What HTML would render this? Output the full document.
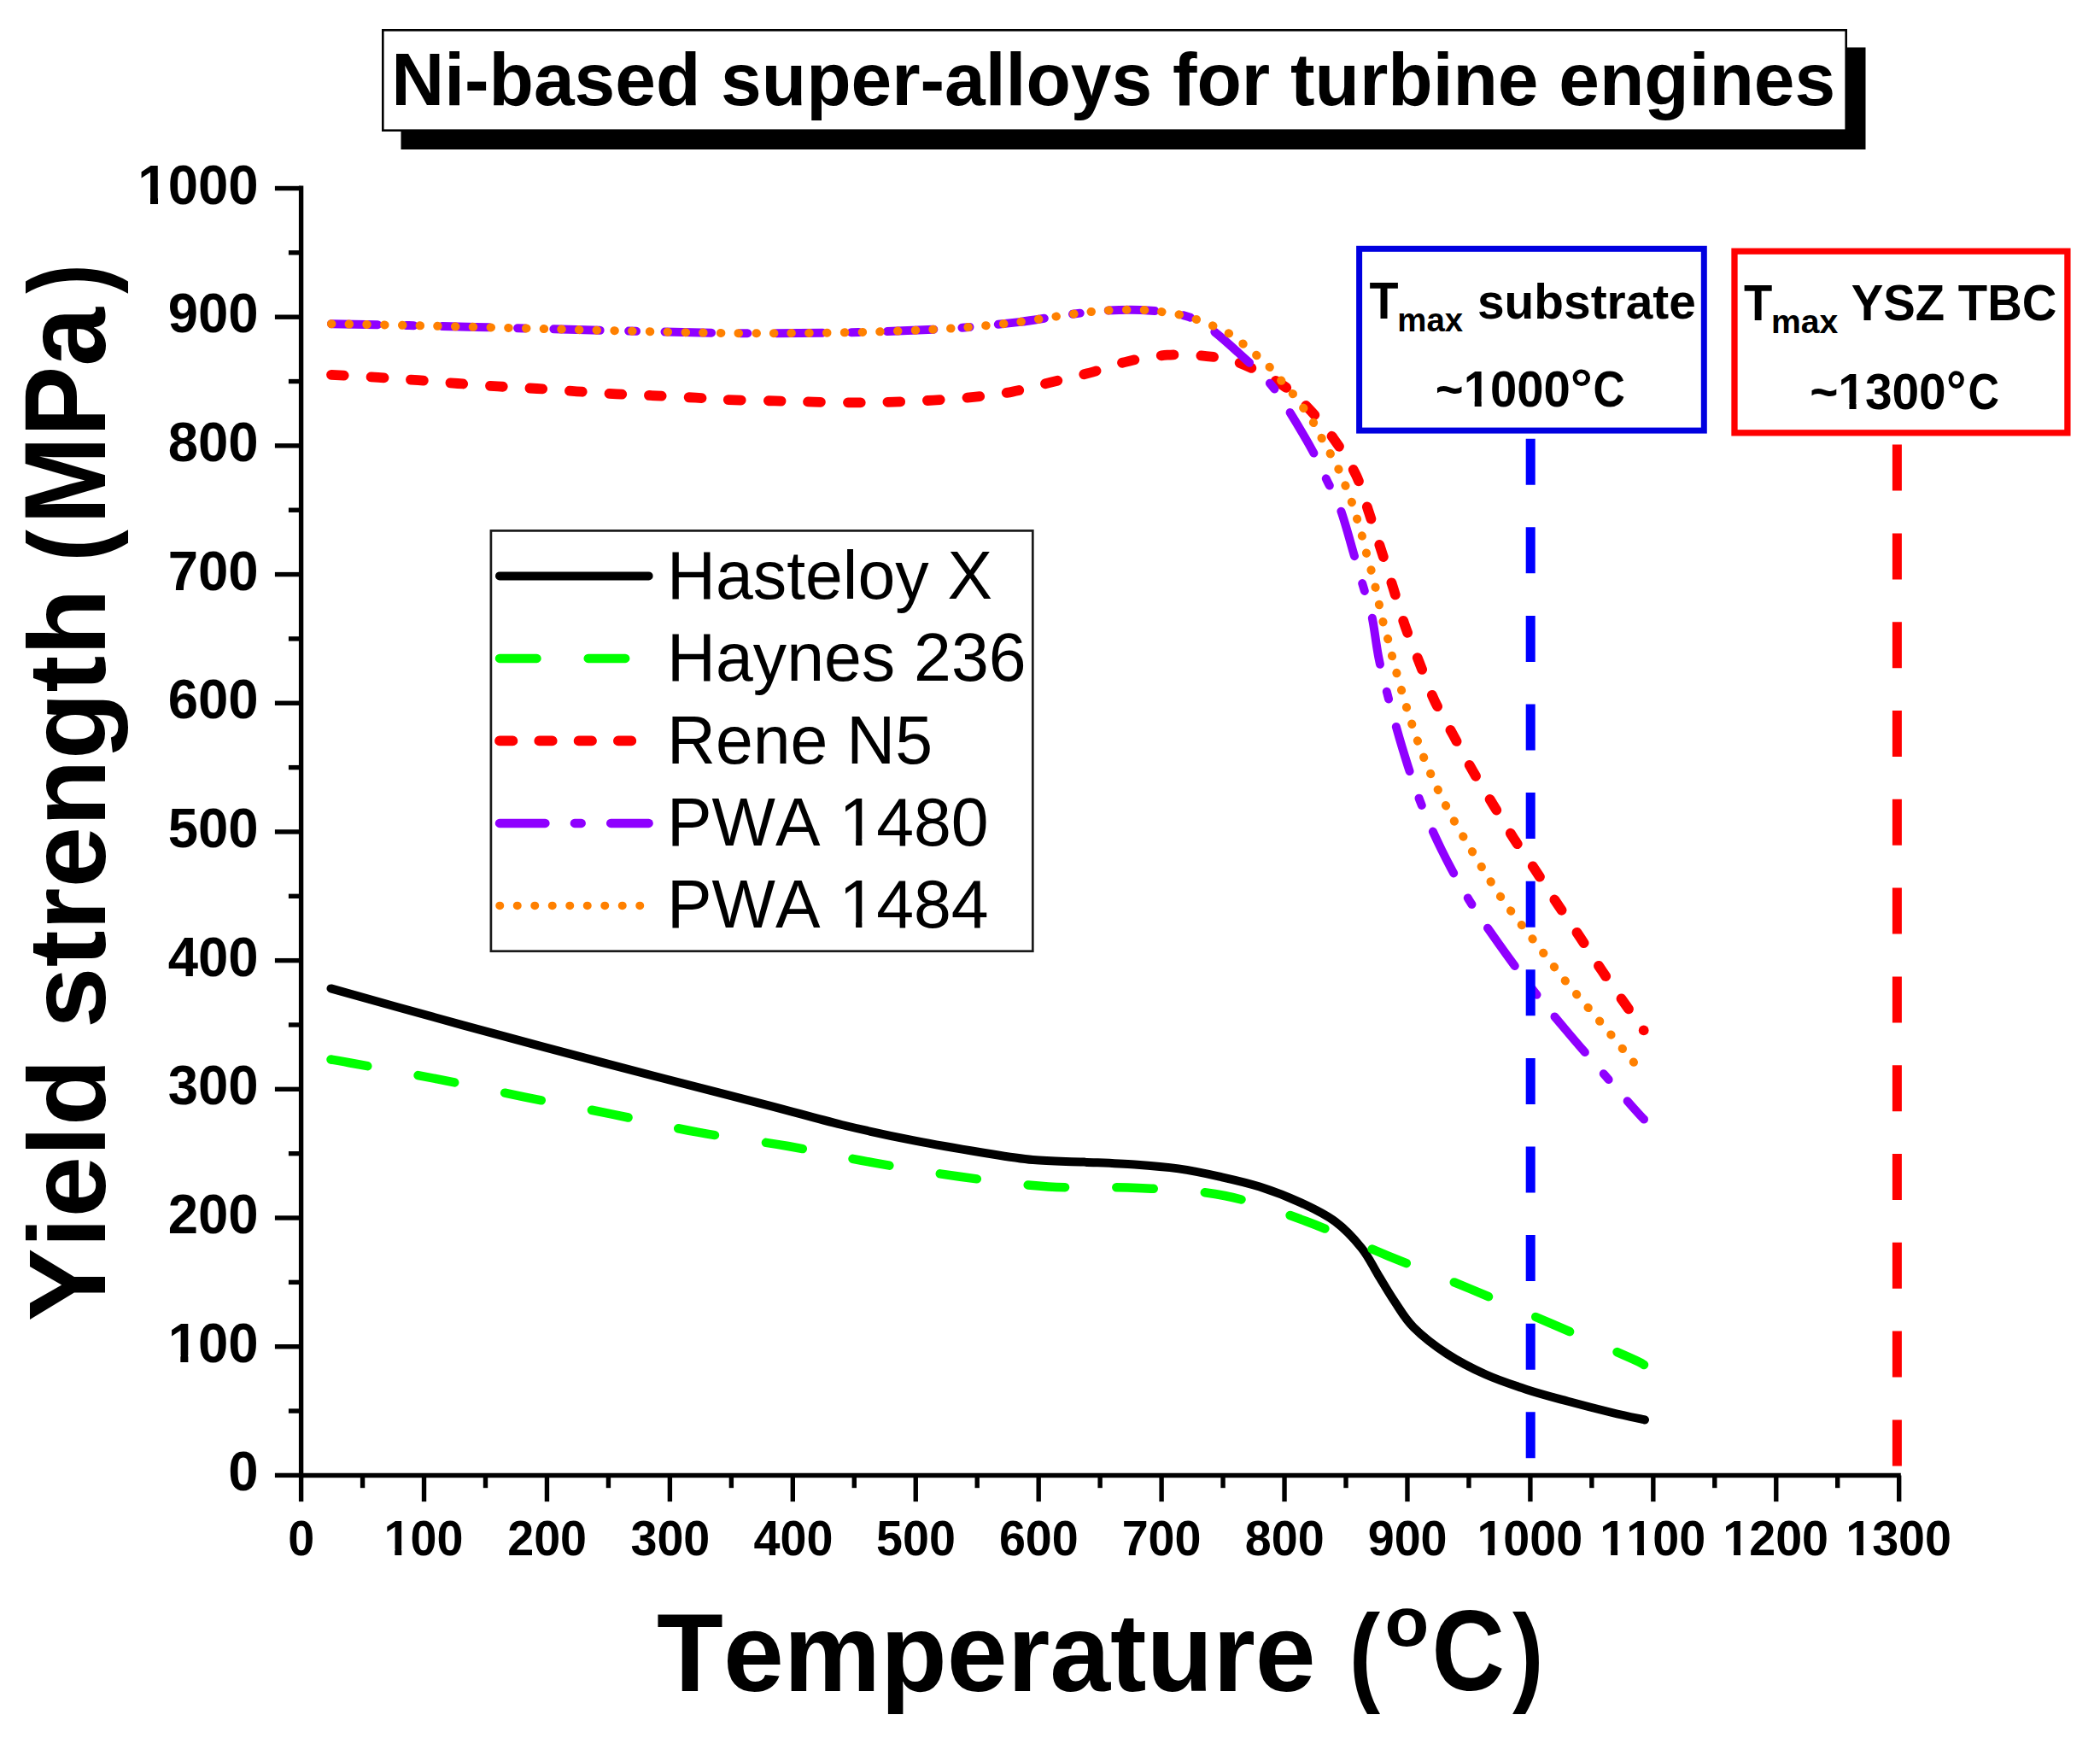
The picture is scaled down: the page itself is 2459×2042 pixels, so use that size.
<!DOCTYPE html><html><head><meta charset="utf-8"><title>Ni-based super-alloys for turbine engines</title><style>html,body{margin:0;padding:0;background:#fff}svg{display:block}text{font-kerning:none;font-feature-settings:"kern" 0, "liga" 0;font-variant-ligatures:none}</style></head><body>
<svg width="2459" height="2042" viewBox="0 0 2459 2042">
<rect x="0" y="0" width="2459" height="2042" fill="#fff"/>
<rect x="469.5" y="55.5" width="1715" height="119.5" fill="#000"/>
<rect x="448.3" y="35.3" width="1713.4" height="117.4" fill="#fff" stroke="#000" stroke-width="2.6"/>
<text transform="translate(458.26,123.4) scale(0.99,1)" font-family='"Liberation Sans", Arial, sans-serif' font-weight="bold" font-size="86.6" fill="#000" xml:space="preserve">Ni-based super-alloys for turbine engines</text>
<g stroke="#000" stroke-width="5.4" fill="none">
<line x1="352.6" y1="217.6" x2="352.6" y2="1730.2"/>
<line x1="349.90000000000003" y1="1727.5" x2="2225.8" y2="1727.5"/>
<line x1="321.9" y1="1727.4" x2="352.6" y2="1727.4"/>
<line x1="337.9" y1="1652.06" x2="352.6" y2="1652.06"/>
<line x1="321.9" y1="1576.71" x2="352.6" y2="1576.71"/>
<line x1="337.9" y1="1501.37" x2="352.6" y2="1501.37"/>
<line x1="321.9" y1="1426.02" x2="352.6" y2="1426.02"/>
<line x1="337.9" y1="1350.68" x2="352.6" y2="1350.68"/>
<line x1="321.9" y1="1275.33" x2="352.6" y2="1275.33"/>
<line x1="337.9" y1="1199.99" x2="352.6" y2="1199.99"/>
<line x1="321.9" y1="1124.64" x2="352.6" y2="1124.64"/>
<line x1="337.9" y1="1049.3" x2="352.6" y2="1049.3"/>
<line x1="321.9" y1="973.95" x2="352.6" y2="973.95"/>
<line x1="337.9" y1="898.61" x2="352.6" y2="898.61"/>
<line x1="321.9" y1="823.26" x2="352.6" y2="823.26"/>
<line x1="337.9" y1="747.92" x2="352.6" y2="747.92"/>
<line x1="321.9" y1="672.57" x2="352.6" y2="672.57"/>
<line x1="337.9" y1="597.23" x2="352.6" y2="597.23"/>
<line x1="321.9" y1="521.88" x2="352.6" y2="521.88"/>
<line x1="337.9" y1="446.54" x2="352.6" y2="446.54"/>
<line x1="321.9" y1="371.19" x2="352.6" y2="371.19"/>
<line x1="337.9" y1="295.85" x2="352.6" y2="295.85"/>
<line x1="321.9" y1="220.5" x2="352.6" y2="220.5"/>
<line x1="352.6" y1="1727.5" x2="352.6" y2="1758.2"/>
<line x1="424.57" y1="1727.5" x2="424.57" y2="1742.2"/>
<line x1="496.53" y1="1727.5" x2="496.53" y2="1758.2"/>
<line x1="568.5" y1="1727.5" x2="568.5" y2="1742.2"/>
<line x1="640.46" y1="1727.5" x2="640.46" y2="1758.2"/>
<line x1="712.42" y1="1727.5" x2="712.42" y2="1742.2"/>
<line x1="784.39" y1="1727.5" x2="784.39" y2="1758.2"/>
<line x1="856.36" y1="1727.5" x2="856.36" y2="1742.2"/>
<line x1="928.32" y1="1727.5" x2="928.32" y2="1758.2"/>
<line x1="1000.29" y1="1727.5" x2="1000.29" y2="1742.2"/>
<line x1="1072.25" y1="1727.5" x2="1072.25" y2="1758.2"/>
<line x1="1144.22" y1="1727.5" x2="1144.22" y2="1742.2"/>
<line x1="1216.18" y1="1727.5" x2="1216.18" y2="1758.2"/>
<line x1="1288.14" y1="1727.5" x2="1288.14" y2="1742.2"/>
<line x1="1360.11" y1="1727.5" x2="1360.11" y2="1758.2"/>
<line x1="1432.07" y1="1727.5" x2="1432.07" y2="1742.2"/>
<line x1="1504.04" y1="1727.5" x2="1504.04" y2="1758.2"/>
<line x1="1576.01" y1="1727.5" x2="1576.01" y2="1742.2"/>
<line x1="1647.97" y1="1727.5" x2="1647.97" y2="1758.2"/>
<line x1="1719.93" y1="1727.5" x2="1719.93" y2="1742.2"/>
<line x1="1791.9" y1="1727.5" x2="1791.9" y2="1758.2"/>
<line x1="1863.87" y1="1727.5" x2="1863.87" y2="1742.2"/>
<line x1="1935.83" y1="1727.5" x2="1935.83" y2="1758.2"/>
<line x1="2007.8" y1="1727.5" x2="2007.8" y2="1742.2"/>
<line x1="2079.76" y1="1727.5" x2="2079.76" y2="1758.2"/>
<line x1="2151.72" y1="1727.5" x2="2151.72" y2="1742.2"/>
<line x1="2223.69" y1="1727.5" x2="2223.69" y2="1758.2"/>
</g>
<text transform="translate(267.29,1745.4) scale(1,1.03)" font-family='"Liberation Sans", Arial, sans-serif' font-weight="bold" font-size="63.5" fill="#000" xml:space="preserve">0</text>
<text transform="translate(196.66,1594.71) scale(1,1.03)" font-family='"Liberation Sans", Arial, sans-serif' font-weight="bold" font-size="63.5" fill="#000" xml:space="preserve">100</text>
<g transform="translate(196.66,1594.71) scale(1,1.03)" fill="#fff"><rect x="2.8" y="-7.78" width="11.87" height="9.08"/><rect x="23.68" y="-7.78" width="11.06" height="9.08"/></g>
<text transform="translate(196.66,1444.02) scale(1,1.03)" font-family='"Liberation Sans", Arial, sans-serif' font-weight="bold" font-size="63.5" fill="#000" xml:space="preserve">200</text>
<text transform="translate(196.66,1293.33) scale(1,1.03)" font-family='"Liberation Sans", Arial, sans-serif' font-weight="bold" font-size="63.5" fill="#000" xml:space="preserve">300</text>
<text transform="translate(196.66,1142.64) scale(1,1.03)" font-family='"Liberation Sans", Arial, sans-serif' font-weight="bold" font-size="63.5" fill="#000" xml:space="preserve">400</text>
<text transform="translate(196.66,991.95) scale(1,1.03)" font-family='"Liberation Sans", Arial, sans-serif' font-weight="bold" font-size="63.5" fill="#000" xml:space="preserve">500</text>
<text transform="translate(196.66,841.26) scale(1,1.03)" font-family='"Liberation Sans", Arial, sans-serif' font-weight="bold" font-size="63.5" fill="#000" xml:space="preserve">600</text>
<text transform="translate(196.66,690.57) scale(1,1.03)" font-family='"Liberation Sans", Arial, sans-serif' font-weight="bold" font-size="63.5" fill="#000" xml:space="preserve">700</text>
<text transform="translate(196.66,539.88) scale(1,1.03)" font-family='"Liberation Sans", Arial, sans-serif' font-weight="bold" font-size="63.5" fill="#000" xml:space="preserve">800</text>
<text transform="translate(196.66,389.19) scale(1,1.03)" font-family='"Liberation Sans", Arial, sans-serif' font-weight="bold" font-size="63.5" fill="#000" xml:space="preserve">900</text>
<text transform="translate(161.34,238.5) scale(1,1.03)" font-family='"Liberation Sans", Arial, sans-serif' font-weight="bold" font-size="63.5" fill="#000" xml:space="preserve">1000</text>
<g transform="translate(161.34,238.5) scale(1,1.03)" fill="#fff"><rect x="2.8" y="-7.78" width="11.87" height="9.08"/><rect x="23.68" y="-7.78" width="11.06" height="9.08"/></g>
<text transform="translate(337.17,1821) scale(1,1.04)" font-family='"Liberation Sans", Arial, sans-serif' font-weight="bold" font-size="55.65" fill="#000" xml:space="preserve">0</text>
<text transform="translate(449.49,1821) scale(1,1.04)" font-family='"Liberation Sans", Arial, sans-serif' font-weight="bold" font-size="55.65" fill="#000" xml:space="preserve">100</text>
<g transform="translate(449.49,1821) scale(1,1.04)" fill="#fff"><rect x="2.31" y="-6.98" width="10.53" height="8.28"/><rect x="20.77" y="-6.98" width="9.83" height="8.28"/></g>
<text transform="translate(594.21,1821) scale(1,1.04)" font-family='"Liberation Sans", Arial, sans-serif' font-weight="bold" font-size="55.65" fill="#000" xml:space="preserve">200</text>
<text transform="translate(738.47,1821) scale(1,1.04)" font-family='"Liberation Sans", Arial, sans-serif' font-weight="bold" font-size="55.65" fill="#000" xml:space="preserve">300</text>
<text transform="translate(882.62,1821) scale(1,1.04)" font-family='"Liberation Sans", Arial, sans-serif' font-weight="bold" font-size="55.65" fill="#000" xml:space="preserve">400</text>
<text transform="translate(1026.11,1821) scale(1,1.04)" font-family='"Liberation Sans", Arial, sans-serif' font-weight="bold" font-size="55.65" fill="#000" xml:space="preserve">500</text>
<text transform="translate(1169.88,1821) scale(1,1.04)" font-family='"Liberation Sans", Arial, sans-serif' font-weight="bold" font-size="55.65" fill="#000" xml:space="preserve">600</text>
<text transform="translate(1313.63,1821) scale(1,1.04)" font-family='"Liberation Sans", Arial, sans-serif' font-weight="bold" font-size="55.65" fill="#000" xml:space="preserve">700</text>
<text transform="translate(1457.87,1821) scale(1,1.04)" font-family='"Liberation Sans", Arial, sans-serif' font-weight="bold" font-size="55.65" fill="#000" xml:space="preserve">800</text>
<text transform="translate(1601.72,1821) scale(1,1.04)" font-family='"Liberation Sans", Arial, sans-serif' font-weight="bold" font-size="55.65" fill="#000" xml:space="preserve">900</text>
<text transform="translate(1729.38,1821) scale(1,1.04)" font-family='"Liberation Sans", Arial, sans-serif' font-weight="bold" font-size="55.65" fill="#000" xml:space="preserve">1000</text>
<g transform="translate(1729.38,1821) scale(1,1.04)" fill="#fff"><rect x="2.31" y="-6.98" width="10.53" height="8.28"/><rect x="20.77" y="-6.98" width="9.83" height="8.28"/></g>
<text transform="translate(1873.31,1821) scale(1,1.04)" font-family='"Liberation Sans", Arial, sans-serif' font-weight="bold" font-size="55.65" fill="#000" xml:space="preserve">1100</text>
<g transform="translate(1873.31,1821) scale(1,1.04)" fill="#fff"><rect x="2.31" y="-6.98" width="10.53" height="8.28"/><rect x="20.77" y="-6.98" width="9.83" height="8.28"/><rect x="33.26" y="-6.98" width="10.53" height="8.28"/><rect x="51.72" y="-6.98" width="9.83" height="8.28"/></g>
<text transform="translate(2017.25,1821) scale(1,1.04)" font-family='"Liberation Sans", Arial, sans-serif' font-weight="bold" font-size="55.65" fill="#000" xml:space="preserve">1200</text>
<g transform="translate(2017.25,1821) scale(1,1.04)" fill="#fff"><rect x="2.31" y="-6.98" width="10.53" height="8.28"/><rect x="20.77" y="-6.98" width="9.83" height="8.28"/></g>
<text transform="translate(2161.18,1821) scale(1,1.04)" font-family='"Liberation Sans", Arial, sans-serif' font-weight="bold" font-size="55.65" fill="#000" xml:space="preserve">1300</text>
<g transform="translate(2161.18,1821) scale(1,1.04)" fill="#fff"><rect x="2.31" y="-6.98" width="10.53" height="8.28"/><rect x="20.77" y="-6.98" width="9.83" height="8.28"/></g>
<text transform="translate(122.6,1547.19) rotate(-90) scale(0.99,0.98)" font-family='"Liberation Sans", Arial, sans-serif' font-weight="bold" font-size="130">Yield strength</text>
<text transform="translate(123,657.81) rotate(-90) scale(0.87,0.99)" font-family='"Liberation Sans", Arial, sans-serif' font-weight="bold" font-size="130">(</text>
<text transform="translate(123,614.1) rotate(-90) scale(0.95,1.04)" font-family='"Liberation Sans", Arial, sans-serif' font-weight="bold" font-size="130">MPa</text>
<text transform="translate(123,343.7) rotate(-90) scale(0.8,0.99)" font-family='"Liberation Sans", Arial, sans-serif' font-weight="bold" font-size="130">)</text>
<text transform="translate(769.07,1980) scale(0.98,1)" font-family='"Liberation Sans", Arial, sans-serif' font-weight="bold" font-size="130" fill="#000" xml:space="preserve">Temperature</text>
<text transform="translate(1579.87,1980.2) scale(0.84,0.99)" font-family='"Liberation Sans", Arial, sans-serif' font-weight="bold" font-size="130" fill="#000" xml:space="preserve">(</text>
<text transform="translate(1621.38,1926.5) scale(1.01,0.98)" font-family='"Liberation Sans", Arial, sans-serif' font-weight="bold" font-size="84" fill="#000" xml:space="preserve">o</text>
<text transform="translate(1676.45,1979.3) scale(0.91,1.02)" font-family='"Liberation Sans", Arial, sans-serif' font-weight="bold" font-size="130" fill="#000" xml:space="preserve">C</text>
<text transform="translate(1771.07,1980.2) scale(0.84,0.99)" font-family='"Liberation Sans", Arial, sans-serif' font-weight="bold" font-size="130" fill="#000" xml:space="preserve">)</text>
<rect x="574.9" y="621.4" width="634.4" height="492.3" fill="#fff" stroke="#1a1a1a" stroke-width="2.7"/>
<path d="M585,674.4 H759.6" stroke="#000" stroke-width="10" stroke-linecap="round" fill="none"/>
<text transform="translate(781.04,700.7) scale(1,1.01)" font-family='"Liberation Sans", Arial, sans-serif' font-weight="normal" font-size="78.8" fill="#000" xml:space="preserve">Hasteloy X</text>
<path d="M585,770.9 H759.6" stroke="#00ff00" stroke-width="10.5" stroke-linecap="round" fill="none" stroke-dasharray="43.5 60.2"/>
<text transform="translate(781.04,797.1) scale(1,1.01)" font-family='"Liberation Sans", Arial, sans-serif' font-weight="normal" font-size="78.8" fill="#000" xml:space="preserve">Haynes 236</text>
<path d="M585,867.4 H759.6" stroke="#ff0000" stroke-width="11.8" stroke-linecap="round" fill="none" stroke-dasharray="15.4 30.9"/>
<text transform="translate(781.04,893.5) scale(1,1.01)" font-family='"Liberation Sans", Arial, sans-serif' font-weight="normal" font-size="78.8" fill="#000" xml:space="preserve">Rene N5</text>
<path d="M585,963.9 H759.6" stroke="#8f00ff" stroke-width="10.5" stroke-linecap="round" fill="none" stroke-dasharray="53.4 34.5 7.8 34.5"/>
<text transform="translate(781.04,989.9) scale(1,1.01)" font-family='"Liberation Sans", Arial, sans-serif' font-weight="normal" font-size="78.8" fill="#000" xml:space="preserve">PWA 1480</text>
<g transform="translate(781.04,989.9) scale(1,1.01)" fill="#fff"><rect x="206.19" y="-7.19" width="14.86" height="8.49"/><rect x="228.32" y="-7.19" width="14.25" height="8.49"/></g>
<path d="M585,1060.4 H759.6" stroke="#ff8000" stroke-width="9.5" stroke-linecap="round" fill="none" stroke-dasharray="0.5 20"/>
<text transform="translate(781.04,1086.3) scale(1,1.01)" font-family='"Liberation Sans", Arial, sans-serif' font-weight="normal" font-size="78.8" fill="#000" xml:space="preserve">PWA 1484</text>
<g transform="translate(781.04,1086.3) scale(1,1.01)" fill="#fff"><rect x="206.19" y="-7.19" width="14.86" height="8.49"/><rect x="228.32" y="-7.19" width="14.25" height="8.49"/></g>
<path d="M387.5,1157.4 C407.92,1163.08 468.63,1180.12 510,1191.5 C551.37,1202.88 590.7,1213.7 635.7,1225.7 C680.7,1237.7 735.95,1252.07 780,1263.5 C824.05,1274.93 865.72,1285.38 900,1294.3 C934.28,1303.22 957.13,1310.1 985.7,1317 C1014.27,1323.9 1044.02,1330.28 1071.4,1335.7 C1098.78,1341.12 1126.98,1345.77 1150,1349.5 C1173.02,1353.23 1189.67,1356.25 1209.5,1358.1 C1229.33,1359.95 1249.15,1359.7 1269,1360.6 C1288.85,1361.5 1310.1,1362.2 1328.6,1363.5 C1347.1,1364.8 1363.43,1366.05 1380,1368.4 C1396.57,1370.75 1412.17,1374.08 1428,1377.6 C1443.83,1381.12 1459.17,1384.42 1475,1389.5 C1490.83,1394.58 1508.27,1401.3 1523,1408.1 C1537.73,1414.9 1551.5,1421.43 1563.4,1430.3 C1575.3,1439.17 1586.05,1450.97 1594.4,1461.3 C1602.75,1471.63 1607.13,1481.98 1613.5,1492.3 C1619.87,1502.62 1625.63,1512.88 1632.6,1523.2 C1639.57,1533.52 1644.98,1543.87 1655.3,1554.2 C1665.62,1564.53 1680.38,1575.98 1694.5,1585.2 C1708.62,1594.42 1724.48,1602.55 1740,1609.5 C1755.52,1616.45 1771.73,1621.73 1787.6,1626.9 C1803.47,1632.07 1818.53,1635.98 1835.2,1640.5 C1851.87,1645.02 1872.47,1650.33 1887.6,1654 C1902.73,1657.67 1919.6,1661.08 1926,1662.5" stroke="#000" stroke-width="10" stroke-linecap="round" stroke-linejoin="round" fill="none"/>
<path d="M387.5,1240.5 C391.25,1241.17 389.25,1240.68 410,1244.5 C430.75,1248.32 478.07,1256.77 512,1263.4 C545.93,1270.03 579.65,1277.48 613.6,1284.3 C647.55,1291.12 681.8,1297.4 715.7,1304.3 C749.6,1311.2 782.47,1319.42 817,1325.7 C851.53,1331.98 888.58,1336.05 922.9,1342 C957.22,1347.95 989.33,1355.45 1022.9,1361.4 C1056.47,1367.35 1090.17,1373.03 1124.3,1377.7 C1158.43,1382.37 1193.08,1387.2 1227.7,1389.4 C1262.32,1391.6 1297.62,1389.13 1332,1390.9 C1366.38,1392.67 1401.08,1393.48 1434,1400 C1466.92,1406.52 1497.67,1418.28 1529.5,1430 C1561.33,1441.72 1593.03,1457.13 1625,1470.3 C1656.97,1483.47 1689.55,1495.82 1721.3,1509 C1753.05,1522.18 1784.33,1535.97 1815.5,1549.4 C1846.67,1562.83 1890.05,1581.5 1908.3,1589.6 C1926.55,1597.7 1922.22,1596.6 1925,1598" stroke="#00ff00" stroke-width="10.5" stroke-linecap="round" stroke-linejoin="round" fill="none" stroke-dasharray="43.5 60.2"/>
<path d="M388,438.8 C397.12,439.32 425.73,440.83 442.7,441.9 C459.67,442.97 474.25,444.02 489.8,445.2 C505.35,446.38 520.47,447.8 536,449 C551.53,450.2 567.5,451.4 583,452.4 C598.5,453.4 613.58,454.02 629,455 C644.42,455.98 660,457.23 675.5,458.3 C691,459.37 706.58,460.57 722,461.4 C737.42,462.23 752.53,462.58 768,463.3 C783.47,464.02 801.13,464.92 814.8,465.7 C828.47,466.48 834.63,467.38 850,468 C865.37,468.62 889.85,468.97 907,469.4 C924.15,469.83 937.17,470.27 952.9,470.6 C968.63,470.93 985.72,471.4 1001.4,471.4 C1017.08,471.4 1031.75,471.07 1047,470.6 C1062.25,470.13 1077.4,469.55 1092.9,468.6 C1108.4,467.65 1124.53,466.57 1140,464.9 C1155.47,463.23 1170.7,461.47 1185.7,458.6 C1200.7,455.73 1215,451.37 1230,447.7 C1245,444.03 1260.47,440.73 1275.7,436.6 C1290.93,432.47 1306.18,426.38 1321.4,422.9 C1336.62,419.42 1351.75,416.67 1367,415.7 C1382.25,414.73 1399.07,415.67 1412.9,417.1 C1426.73,418.53 1435.15,418.65 1450,424.3 C1464.85,429.95 1488.17,441.88 1502,451 C1515.83,460.12 1522.87,468.28 1533,479 C1543.13,489.72 1553.63,502.37 1562.8,515.3 C1571.97,528.23 1581.3,542.45 1588,556.6 C1594.7,570.75 1598.02,585.3 1603,600.2 C1607.98,615.1 1613.12,631.1 1617.9,646 C1622.68,660.9 1627.12,675.07 1631.7,689.6 C1636.28,704.13 1640.43,719.05 1645.4,733.2 C1650.37,747.35 1655.78,760 1661.5,774.5 C1667.22,789 1672.93,805.7 1679.7,820.2 C1686.47,834.7 1694.63,847.75 1702.1,861.5 C1709.57,875.25 1716.77,889.23 1724.5,902.7 C1732.23,916.17 1740.48,929.12 1748.5,942.3 C1756.52,955.48 1764.28,968.9 1772.6,981.8 C1780.92,994.7 1789.8,1006.8 1798.4,1019.7 C1807,1032.6 1815.6,1046.3 1824.2,1059.2 C1832.8,1072.1 1841.4,1084.2 1850,1097.1 C1858.6,1110 1866.92,1123.42 1875.8,1136.6 C1884.68,1149.78 1895.15,1164.57 1903.3,1176.2 C1911.45,1187.83 1921.13,1201.37 1924.7,1206.4" stroke="#ff0000" stroke-width="11.8" stroke-linecap="round" stroke-linejoin="round" fill="none" stroke-dasharray="14.8 31.8"/>
<path d="M388,379.2 C403.17,379.5 444,380.2 479,381 C514,381.8 558.33,382.98 598,384 C637.67,385.02 675,386.1 717,387.1 C759,388.1 813.55,389.52 850,390 C886.45,390.48 907.13,390.23 935.7,390 C964.27,389.77 995.2,389.32 1021.4,388.6 C1047.6,387.88 1073.85,386.65 1092.9,385.7 C1111.95,384.75 1119.03,384.33 1135.7,382.9 C1152.37,381.47 1173.85,379.48 1192.9,377.1 C1211.95,374.72 1233.33,370.83 1250,368.6 C1266.67,366.37 1278.62,364.65 1292.9,363.7 C1307.18,362.75 1323.8,362.57 1335.7,362.9 C1347.6,363.23 1354.77,364.28 1364.3,365.7 C1373.83,367.12 1383.9,368.07 1392.9,371.4 C1401.9,374.73 1408.78,378.78 1418.3,385.7 C1427.82,392.62 1438.9,402.77 1450,412.9 C1461.1,423.03 1475.27,435.55 1484.9,446.5 C1494.53,457.45 1499.02,464.83 1507.8,478.6 C1516.58,492.37 1529.95,515.15 1537.6,529.1 C1545.25,543.05 1548.35,551.03 1553.7,562.3 C1559.05,573.57 1564.35,581.98 1569.7,596.7 C1575.05,611.42 1581.4,635.68 1585.8,650.6 C1590.2,665.52 1592.67,674.35 1596.1,686.2 C1599.53,698.05 1603.35,707.68 1606.4,721.7 C1609.45,735.72 1611.35,755.03 1614.4,770.3 C1617.45,785.57 1620.12,795.82 1624.7,813.3 C1629.28,830.78 1635.6,854.57 1641.9,875.2 C1648.2,895.83 1654.77,917.03 1662.5,937.1 C1670.23,957.17 1678.83,976.4 1688.3,995.6 C1697.77,1014.8 1708.12,1033.95 1719.3,1052.3 C1730.48,1070.65 1742.78,1087.92 1755.4,1105.7 C1768.02,1123.48 1781.82,1142.1 1795,1159 C1808.18,1175.9 1820.75,1190.77 1834.5,1207.1 C1848.25,1223.43 1864.32,1241.8 1877.5,1257 C1890.68,1272.2 1905.68,1289.38 1913.6,1298.3 C1921.52,1307.22 1923.1,1308.47 1925,1310.5" stroke="#8f00ff" stroke-width="10" stroke-linecap="round" stroke-linejoin="round" fill="none" stroke-dasharray="54.5 33.4 8.9 33.4"/>
<path d="M388,379.2 C403.17,379.5 444,380.2 479,381 C514,381.8 558.33,382.98 598,384 C637.67,385.02 675,386.1 717,387.1 C759,388.1 813.55,389.52 850,390 C886.45,390.48 907.13,390.23 935.7,390 C964.27,389.77 995.2,389.32 1021.4,388.6 C1047.6,387.88 1073.85,386.65 1092.9,385.7 C1111.95,384.75 1119.03,384.33 1135.7,382.9 C1152.37,381.47 1173.85,379.48 1192.9,377.1 C1211.95,374.72 1233.33,370.83 1250,368.6 C1266.67,366.37 1278.62,364.65 1292.9,363.7 C1307.18,362.75 1323.8,362.57 1335.7,362.9 C1347.6,363.23 1354.77,364.28 1364.3,365.7 C1373.83,367.12 1382.37,368.25 1392.9,371.4 C1403.43,374.55 1418.67,380.68 1427.5,384.6 C1436.33,388.52 1440.35,391.15 1445.9,394.9 C1451.45,398.65 1455.65,402.78 1460.8,407.1 C1465.95,411.42 1471.65,416.15 1476.8,420.8 C1481.95,425.45 1486.92,429.77 1491.7,435 C1496.48,440.23 1501.1,447.03 1505.5,452.2 C1509.9,457.37 1513.9,460.63 1518.1,466 C1522.3,471.37 1526.68,478.47 1530.7,484.4 C1534.72,490.33 1538.75,495.5 1542.2,501.6 C1545.65,507.7 1547.97,514.7 1551.4,521 C1554.83,527.3 1559.55,533.27 1562.8,539.4 C1566.05,545.53 1568.22,551.5 1570.9,557.8 C1573.58,564.1 1576.42,570.72 1578.9,577.2 C1581.38,583.68 1583.7,590.2 1585.8,596.7 C1587.9,603.2 1589.6,609.7 1591.5,616.2 C1593.4,622.7 1595.48,629.2 1597.2,635.7 C1598.92,642.2 1600.07,648.7 1601.8,655.2 C1603.53,661.7 1605.87,668 1607.6,674.7 C1609.33,681.4 1610.68,688.52 1612.2,695.4 C1613.72,702.28 1615.18,709.32 1616.7,716 C1618.22,722.68 1619.57,729 1621.3,735.5 C1623.03,742 1625.37,748.5 1627.1,755 C1628.83,761.5 1628.08,761.33 1631.7,774.5 C1635.32,787.67 1642.52,814.35 1648.8,834 C1655.08,853.65 1661.67,873.5 1669.4,892.4 C1677.13,911.3 1685.73,929.33 1695.2,947.4 C1704.67,965.47 1715.6,983.32 1726.2,1000.8 C1736.8,1018.28 1747.05,1035.4 1758.8,1052.3 C1770.55,1069.2 1784.08,1085.85 1796.7,1102.2 C1809.32,1118.55 1821.6,1134.63 1834.5,1150.4 C1847.4,1166.17 1860.95,1181.15 1874.1,1196.8 C1887.25,1212.45 1906.85,1236.38 1913.4,1244.3" stroke="#ff8000" stroke-width="10" stroke-linecap="round" stroke-linejoin="round" fill="none" stroke-dasharray="0.5 20.22"/>
<circle cx="1924.7" cy="1206.4" r="5.9" fill="#ff0000"/>
<path d="M1792.2,513.7 V1708" stroke="#0000ff" stroke-width="11" stroke-dasharray="54 49.6" fill="none"/>
<path d="M2221.4,520.6 V1716.5" stroke="#ff0000" stroke-width="11" stroke-dasharray="54 49.8" fill="none"/>
<rect x="1591.6" y="291.3" width="403.7" height="212.8" fill="#fff" stroke="#0000e0" stroke-width="7"/>
<rect x="2031" y="294.2" width="389.9" height="212.6" fill="#fff" stroke="#ff0000" stroke-width="7.3"/>
<text transform="translate(1603.38,372.5) scale(0.97,1.05)" font-family='"Liberation Sans", Arial, sans-serif' font-weight="bold" font-size="57.4" fill="#000" xml:space="preserve">T</text>
<text transform="translate(1636.28,387.7) scale(1.01,1)" font-family='"Liberation Sans", Arial, sans-serif' font-weight="bold" font-size="38" fill="#000" xml:space="preserve">max</text>
<text transform="translate(1730.01,372.9) scale(0.99,1)" font-family='"Liberation Sans", Arial, sans-serif' font-weight="bold" font-size="57.4" fill="#000" xml:space="preserve">substrate</text>
<text transform="translate(1680.86,476.2) scale(0.98,1.03)" font-family='"Liberation Sans", Arial, sans-serif' font-weight="bold" font-size="57.4" fill="#000" xml:space="preserve">~1000</text>
<g transform="translate(1680.86,476.2) scale(0.98,1.03)" fill="#fff"><rect x="35.94" y="-7.16" width="10.83" height="8.46"/><rect x="54.94" y="-7.16" width="10.1" height="8.46"/></g>
<text transform="translate(1838.74,477.33) scale(1.14,1.11)" font-family='"Liberation Sans", Arial, sans-serif' font-weight="bold" font-size="57.4" fill="#000" xml:space="preserve">°</text>
<text transform="translate(1865.48,476.2) scale(0.9,1.03)" font-family='"Liberation Sans", Arial, sans-serif' font-weight="bold" font-size="57.4" fill="#000" xml:space="preserve">C</text>
<text transform="translate(2041.99,374.5) scale(0.95,1.03)" font-family='"Liberation Sans", Arial, sans-serif' font-weight="bold" font-size="57.4" fill="#000" xml:space="preserve">T</text>
<text transform="translate(2073.93,390.4) scale(1.03,1)" font-family='"Liberation Sans", Arial, sans-serif' font-weight="bold" font-size="38" fill="#000" xml:space="preserve">max</text>
<text transform="translate(2167.84,374.5) scale(0.98,1.04)" font-family='"Liberation Sans", Arial, sans-serif' font-weight="bold" font-size="57.4" fill="#000" xml:space="preserve">YSZ TBC</text>
<text transform="translate(2119.16,479) scale(0.99,1.03)" font-family='"Liberation Sans", Arial, sans-serif' font-weight="bold" font-size="57.4" fill="#000" xml:space="preserve">~1300</text>
<g transform="translate(2119.16,479) scale(0.99,1.03)" fill="#fff"><rect x="35.94" y="-7.16" width="10.83" height="8.46"/><rect x="54.94" y="-7.16" width="10.1" height="8.46"/></g>
<text transform="translate(2279.02,480.74) scale(1.02,1.16)" font-family='"Liberation Sans", Arial, sans-serif' font-weight="bold" font-size="57.4" fill="#000" xml:space="preserve">°</text>
<text transform="translate(2304.53,479) scale(0.88,1.03)" font-family='"Liberation Sans", Arial, sans-serif' font-weight="bold" font-size="57.4" fill="#000" xml:space="preserve">C</text>
</svg></body></html>
